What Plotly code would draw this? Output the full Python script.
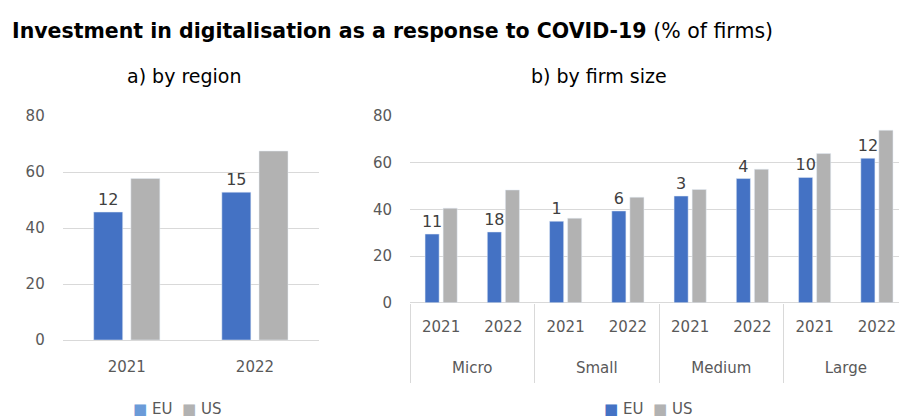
import plotly.graph_objects as go

# Share of firms investing in digitalisation as a response to COVID-19 (%)
years = ["2021", "2022"]
region_eu = [45.7, 52.8]
region_us = [57.7, 67.5]

sizes = ["Micro", "Small", "Medium", "Large"]
size_eu = [29.4, 30.3, 34.9, 39.3, 45.7, 53.2, 53.7, 61.9]
size_us = [40.5, 48.3, 36.2, 45.2, 48.5, 57.2, 63.9, 73.9]

EU_COLOR = "#4472C4"
US_COLOR = "#B2B2B2"
TICK_COLOR = "#595959"
LABEL_COLOR = "#404040"
GRID_COLOR = "#D9D9D9"
FONT = "DejaVu Sans"

W, H = 899, 417


def px_x(x):
    return x / W


def px_y(y):
    return 1 - y / H


def gaps(eu, us):
    # label shows the US-EU gap in percentage points
    return [f"{round(u - e):d}" for e, u in zip(eu, us)]


size_x = [[s for s in sizes for _ in years], [y for _ in sizes for y in years]]
sub_pos = list(range(len(size_x[1])))
x2_range = [-0.5, 7.355]
# same span expressed in firm-size groups (two years per group)
x_grp_range = [-0.5, -0.5 + (x2_range[1] - x2_range[0]) / len(years)]

fig = go.Figure()

label_font = dict(color=LABEL_COLOR, size=16, family=FONT)

# a) by region
fig.add_trace(go.Bar(x=years, y=region_eu, name="EU", marker_color=EU_COLOR,
                     text=gaps(region_eu, region_us), textposition="outside",
                     constraintext="none", cliponaxis=False, textfont=label_font,
                     xaxis="x", yaxis="y"))
fig.add_trace(go.Bar(x=years, y=region_us, name="US", marker_color=US_COLOR,
                     xaxis="x", yaxis="y"))

# b) by firm size
fig.add_trace(go.Bar(x=size_x, y=size_eu, name="EU", marker_color=EU_COLOR,
                     text=gaps(size_eu, size_us), textposition="outside",
                     constraintext="none", cliponaxis=False, textfont=label_font,
                     xaxis="x2", yaxis="y2"))
fig.add_trace(go.Bar(x=size_x, y=size_us, name="US", marker_color=US_COLOR,
                     xaxis="x2", yaxis="y2"))

# invisible carriers so the label axes of panel b are drawn
fig.add_trace(go.Scatter(x=sub_pos, y=[None] * len(sub_pos), xaxis="x3", yaxis="y2",
                         mode="markers", hoverinfo="skip"))
fig.add_trace(go.Scatter(x=sizes, y=[None] * len(sizes), xaxis="x4", yaxis="y2",
                         mode="markers", hoverinfo="skip"))

tick_font = dict(family=FONT, size=15, color=TICK_COLOR)

common_y = dict(range=[0, 80], dtick=20, showgrid=True, gridcolor=GRID_COLOR,
                gridwidth=1, zeroline=True, zerolinecolor=GRID_COLOR,
                zerolinewidth=1, showline=False, tickfont=tick_font,
                ticklabelstandoff=17, fixedrange=True, automargin=False)

right_dom = [px_x(410), 1.0]

fig.update_layout(
    width=W, height=H,
    margin=dict(l=0, r=0, t=0, b=0, autoexpand=False),
    paper_bgcolor="white", plot_bgcolor="white",
    barmode="group", bargap=0.42, bargroupgap=0.22,
    font=dict(family=FONT, color=TICK_COLOR),
    showlegend=False,
    xaxis=dict(domain=[px_x(62.7), px_x(319)], type="category",
               showgrid=False, showline=False, ticks="",
               tickfont=tick_font, ticklabelstandoff=16, automargin=False),
    yaxis=dict(domain=[px_y(340), px_y(116)], anchor="x", **common_y),
    # bars of panel b, grouped by firm size and year
    xaxis2=dict(domain=right_dom, type="multicategory", range=x2_range,
                showgrid=False, showline=False, ticks="", showticklabels=False,
                showdividers=False, anchor="y2", automargin=False),
    yaxis2=dict(domain=[px_y(302.7), px_y(116)], anchor="x2", **common_y),
    # year labels under each pair of bars
    xaxis3=dict(domain=right_dom, overlaying="x2", anchor="y2", type="linear",
                range=x2_range, tickmode="array",
                tickvals=sub_pos, ticktext=size_x[1],
                showgrid=False, zeroline=False, showline=False, ticks="",
                tickfont=tick_font, ticklabelstandoff=13, automargin=False),
    # firm-size groups with separators at the group boundaries
    xaxis4=dict(domain=right_dom, overlaying="x2", anchor="y2", type="category",
                categoryorder="array", categoryarray=sizes,
                range=x_grp_range, tickson="boundaries", ticks="outside",
                ticklen=79, tickcolor=GRID_COLOR, tickwidth=1,
                showgrid=False, zeroline=False, showline=False,
                tickfont=tick_font, ticklabelstandoff=54, automargin=False),
)

annotations = [
    dict(text="<b>Investment in digitalisation as a response to COVID-19</b> (% of firms)",
         x=px_x(10), y=px_y(31), xanchor="left", yanchor="middle",
         font=dict(family=FONT, size=20.5, color="black")),
    dict(text="a) by region", x=px_x(184), y=px_y(76), xanchor="center",
         yanchor="middle", font=dict(family=FONT, size=19, color="black")),
    dict(text="b) by firm size", x=px_x(599), y=px_y(76), xanchor="center",
         yanchor="middle", font=dict(family=FONT, size=19, color="black")),
    dict(text="<span style='color:#6B9BD8'>■</span> EU  "
              "<span style='color:#B2B2B2'>■</span> US",
         x=px_x(177), y=px_y(409), xanchor="center", yanchor="middle",
         font=dict(family=FONT, size=15, color=TICK_COLOR)),
    dict(text=f"<span style='color:{EU_COLOR}'>■</span> EU  "
              f"<span style='color:{US_COLOR}'>■</span> US",
         x=px_x(648), y=px_y(409), xanchor="center", yanchor="middle",
         font=dict(family=FONT, size=15, color=TICK_COLOR)),
]
for a in annotations:
    a.update(xref="paper", yref="paper", showarrow=False)
fig.update_layout(annotations=annotations)

fig.write_html("out.html")
